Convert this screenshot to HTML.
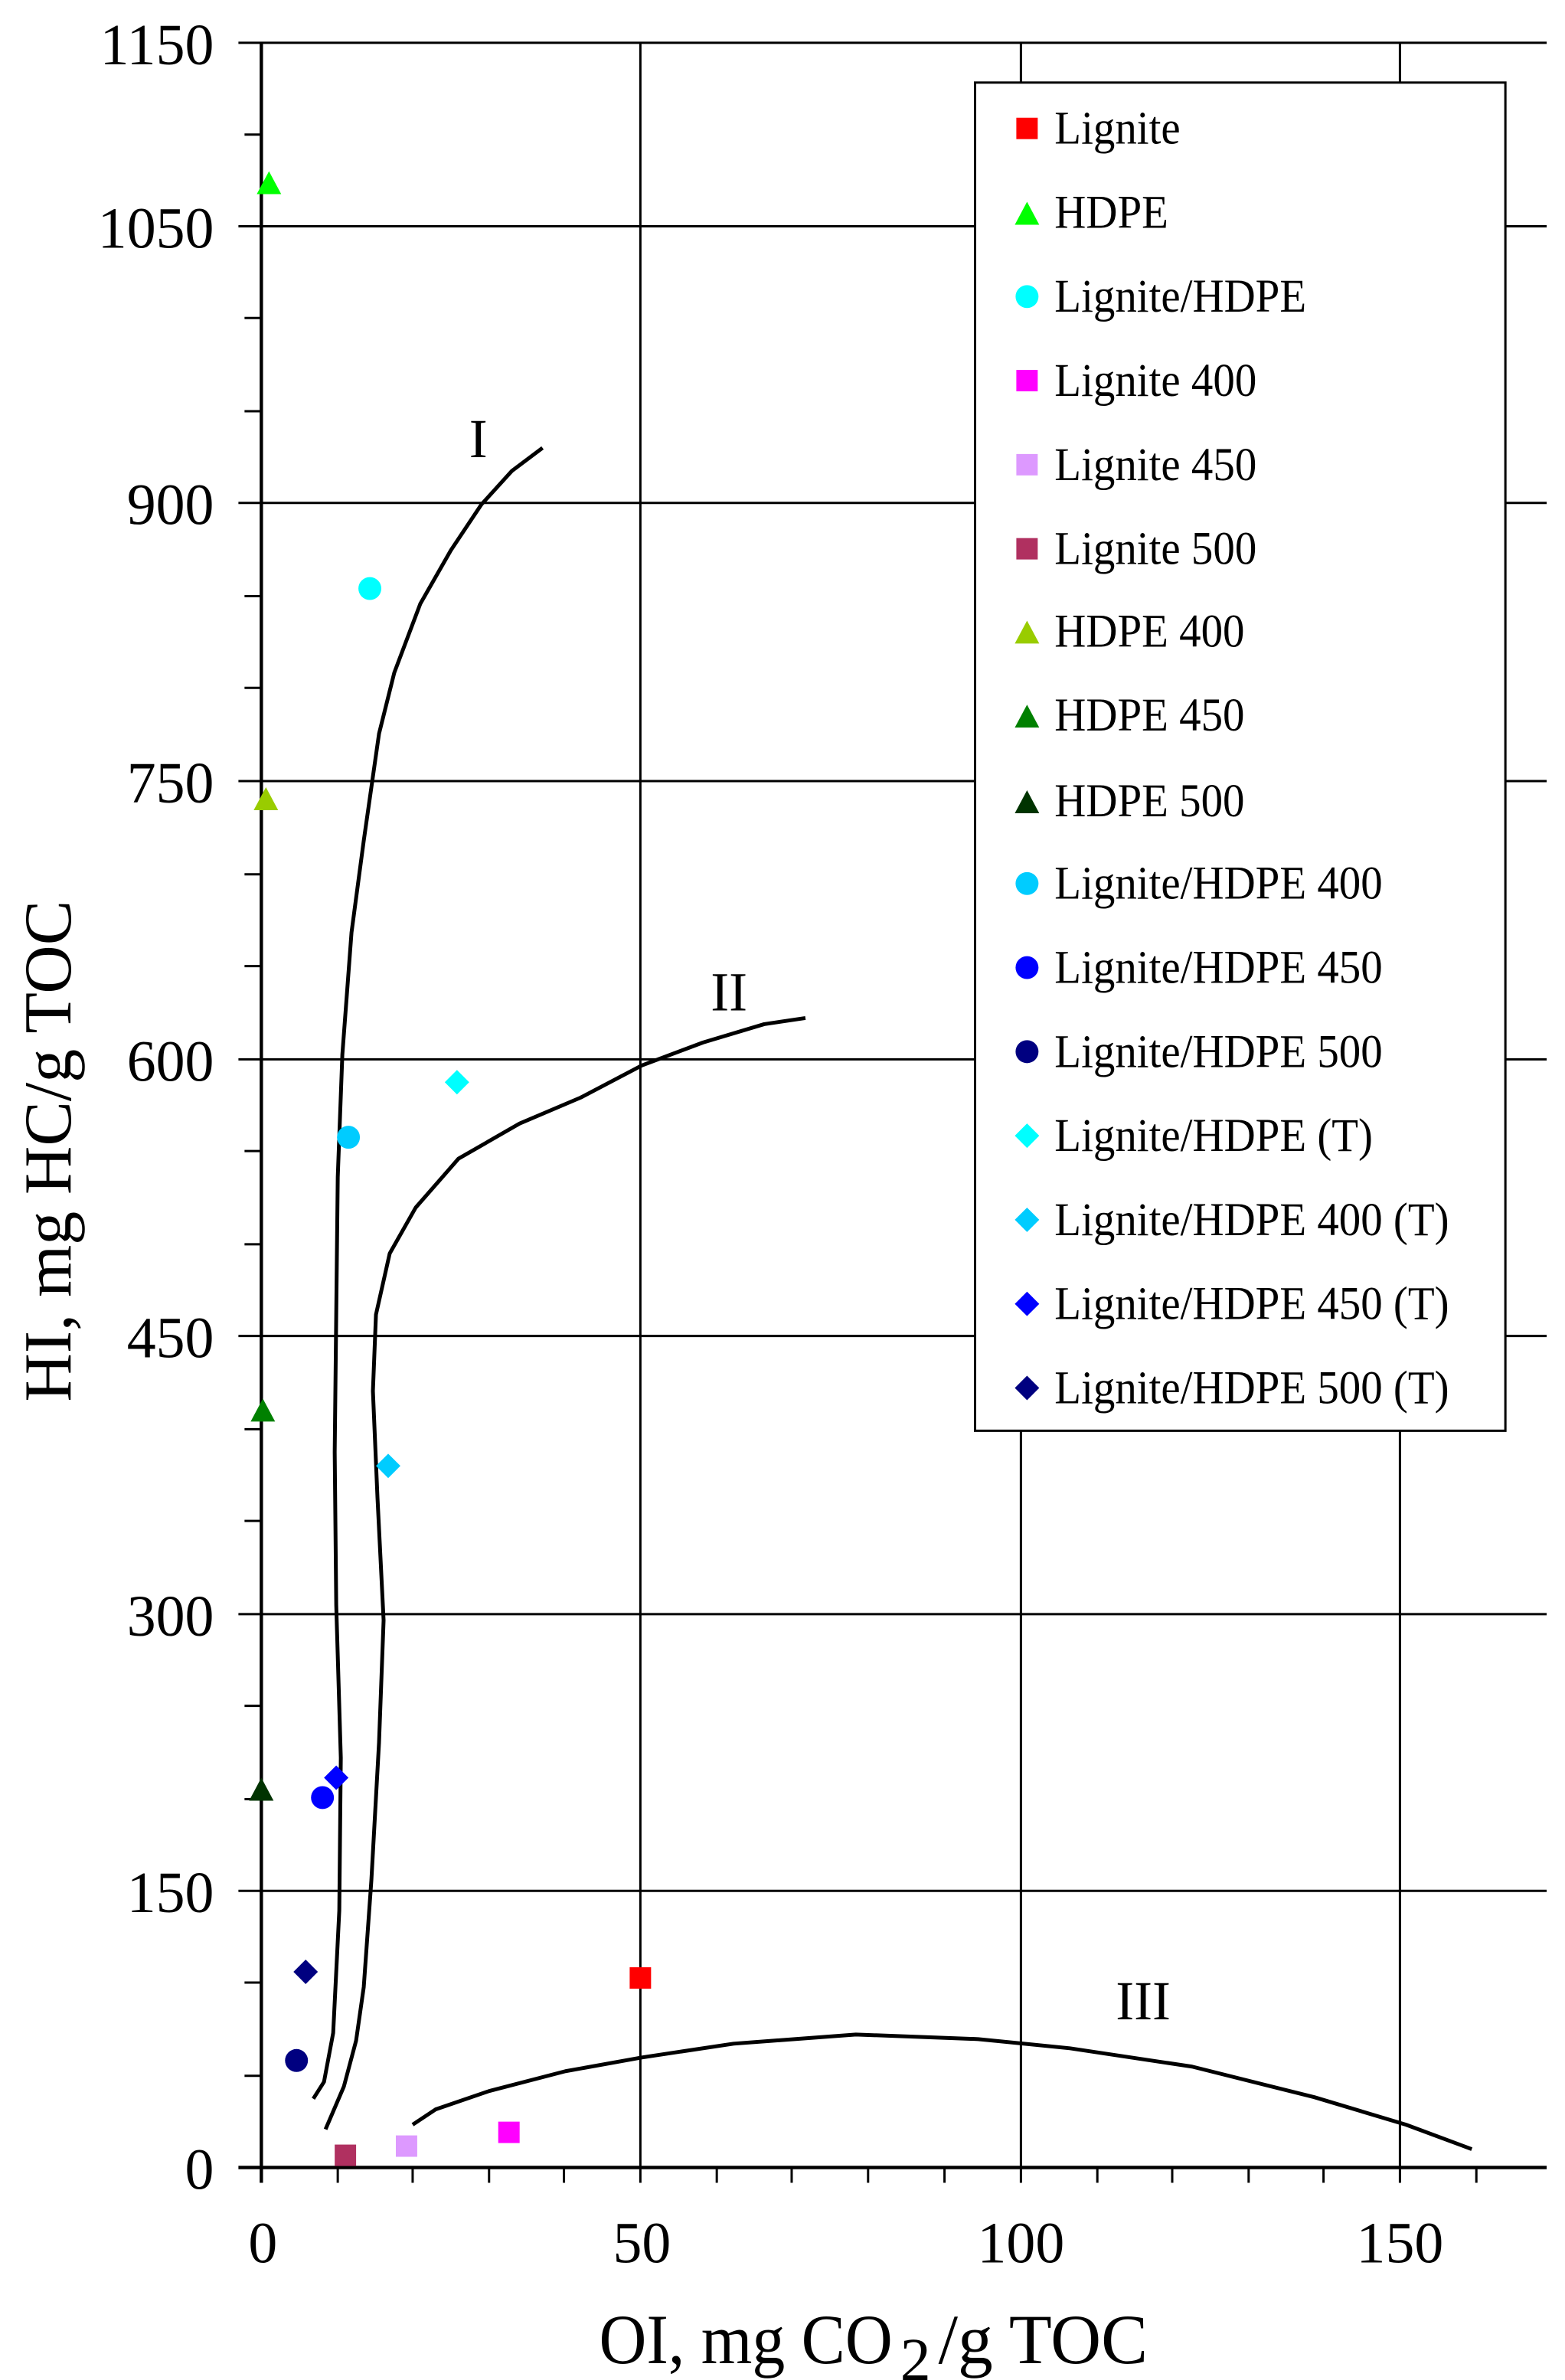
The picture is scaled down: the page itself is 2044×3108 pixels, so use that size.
<!DOCTYPE html>
<html><head><meta charset="utf-8"><style>html,body{margin:0;padding:0;background:#fff}svg{display:block}</style></head>
<body>
<svg xmlns="http://www.w3.org/2000/svg" width="2044" height="3108" viewBox="0 0 1024 1557" font-family="'Liberation Serif', serif">
<rect width="1024" height="1557" fill="#fff"/>
<g stroke="#000" stroke-width="1.5" fill="none">
<line x1="156" y1="28" x2="1012" y2="28"/>
<line x1="156" y1="148" x2="1012" y2="148"/>
<line x1="156" y1="329" x2="1012" y2="329"/>
<line x1="156" y1="511" x2="1012" y2="511"/>
<line x1="156" y1="693" x2="1012" y2="693"/>
<line x1="156" y1="874" x2="1012" y2="874"/>
<line x1="156" y1="1056" x2="1012" y2="1056"/>
<line x1="156" y1="1237" x2="1012" y2="1237"/>
<line x1="419" y1="28" x2="419" y2="1428"/>
<line x1="668" y1="28" x2="668" y2="1428"/>
<line x1="916" y1="28" x2="916" y2="1428"/>
<line x1="160" y1="88" x2="171" y2="88"/>
<line x1="160" y1="208" x2="171" y2="208"/>
<line x1="160" y1="269" x2="171" y2="269"/>
<line x1="160" y1="390" x2="171" y2="390"/>
<line x1="160" y1="450" x2="171" y2="450"/>
<line x1="160" y1="572" x2="171" y2="572"/>
<line x1="160" y1="632" x2="171" y2="632"/>
<line x1="160" y1="753" x2="171" y2="753"/>
<line x1="160" y1="814" x2="171" y2="814"/>
<line x1="160" y1="935" x2="171" y2="935"/>
<line x1="160" y1="995" x2="171" y2="995"/>
<line x1="160" y1="1116" x2="171" y2="1116"/>
<line x1="160" y1="1177" x2="171" y2="1177"/>
<line x1="160" y1="1297" x2="171" y2="1297"/>
<line x1="160" y1="1358" x2="171" y2="1358"/>
</g>
<g stroke="#000" stroke-width="2.2" fill="none">
<line x1="171" y1="28" x2="171" y2="1428"/>
<line x1="156" y1="1418" x2="1012" y2="1418"/>
</g>
<g stroke="#000" stroke-width="1.5">
<line x1="221" y1="1418" x2="221" y2="1428"/><line x1="270" y1="1418" x2="270" y2="1428"/><line x1="320" y1="1418" x2="320" y2="1428"/><line x1="369" y1="1418" x2="369" y2="1428"/>
<line x1="469" y1="1418" x2="469" y2="1428"/><line x1="518" y1="1418" x2="518" y2="1428"/><line x1="568" y1="1418" x2="568" y2="1428"/><line x1="618" y1="1418" x2="618" y2="1428"/>
<line x1="718" y1="1418" x2="718" y2="1428"/><line x1="767" y1="1418" x2="767" y2="1428"/><line x1="817" y1="1418" x2="817" y2="1428"/><line x1="866" y1="1418" x2="866" y2="1428"/>
<line x1="966" y1="1418" x2="966" y2="1428"/>
</g>
<g font-size="38" text-anchor="end" fill="#000">
<text x="140" y="42">1150</text><text x="140" y="162">1050</text><text x="140" y="343">900</text>
<text x="140" y="525">750</text><text x="140" y="707">600</text><text x="140" y="888">450</text>
<text x="140" y="1070">300</text><text x="140" y="1251">150</text><text x="140" y="1432">0</text>
</g>
<g font-size="38" text-anchor="middle" fill="#000">
<text x="172" y="1480">0</text><text x="420" y="1480">50</text><text x="668" y="1480">100</text><text x="916" y="1480">150</text>
</g>
<text transform="translate(46,917) rotate(-90)" font-size="44" textLength="328" lengthAdjust="spacingAndGlyphs">HI, mg HC/g TOC</text>
<text x="392" y="1546" font-size="46" textLength="192" lengthAdjust="spacingAndGlyphs">OI, mg CO</text>
<text x="589" y="1557" font-size="40">2</text>
<text x="614" y="1546" font-size="46" textLength="137" lengthAdjust="spacingAndGlyphs">/g TOC</text>
<g stroke="#000" stroke-width="2.5" fill="none" stroke-linejoin="round">
<path d="M205,1373 L212,1362 L218,1330 L222,1250 L223,1150 L220,1050 L219,950 L220,860 L221,770 L224,690 L230,610 L238,550 L248,480 L258,440 L275,395 L295,360 L315,330 L335,308 L355,293"/>
<path d="M213,1393 L225,1365 L233,1335 L238,1300 L243,1230 L248,1140 L251,1060 L247,980 L244,910 L246,860 L255,820 L272,790 L300,758 L340,735 L380,718 L420,697 L460,682 L500,670 L527,666"/>
<path d="M270,1390 L285,1380 L320,1368 L370,1355 L420,1346 L480,1337 L560,1331 L640,1334 L700,1340 L780,1352 L860,1372 L920,1390 L963,1406"/>
</g>
<g font-size="36" fill="#000" text-anchor="middle">
<text x="313" y="299">I</text><text x="477" y="661">II</text><text x="748" y="1321">III</text>
</g>
<rect x="412" y="1287" width="14" height="14" fill="#ff0000"/>
<polygon points="176,112 184,127 168,127" fill="#00ff00"/>
<circle cx="242" cy="385" r="7.5" fill="#00ffff"/>
<rect x="326" y="1388" width="14" height="14" fill="#ff00ff"/>
<rect x="259" y="1397" width="14" height="14" fill="#dd99ff"/>
<rect x="219" y="1403" width="14" height="14" fill="#b03060"/>
<polygon points="174,515 182,530 166,530" fill="#99cc00"/>
<polygon points="172,915 180,930 164,930" fill="#008000"/>
<polygon points="171,1163 179,1178 163,1178" fill="#003300"/>
<circle cx="228" cy="744" r="7.5" fill="#00ccff"/>
<circle cx="211" cy="1176" r="7.5" fill="#0000ff"/>
<circle cx="194" cy="1348" r="7.5" fill="#000080"/>
<polygon points="299,700 307,708 299,716 291,708" fill="#00ffff"/>
<polygon points="254,951 262,959 254,967 246,959" fill="#00ccff"/>
<polygon points="220,1155 228,1163 220,1171 212,1163" fill="#0000ff"/>
<polygon points="200,1282 208,1290 200,1298 192,1290" fill="#000080"/>
<rect x="638" y="54" width="347" height="882" fill="#fff" stroke="#000" stroke-width="1.5"/>
<rect x="665" y="77" width="14" height="14" fill="#ff0000"/>
<polygon points="672,132 680,147 664,147" fill="#00ff00"/>
<circle cx="672" cy="194" r="7.5" fill="#00ffff"/>
<rect x="665" y="242" width="14" height="14" fill="#ff00ff"/>
<rect x="665" y="297" width="14" height="14" fill="#dd99ff"/>
<rect x="665" y="352" width="14" height="14" fill="#b03060"/>
<polygon points="672,406 680,421 664,421" fill="#99cc00"/>
<polygon points="672,461 680,476 664,476" fill="#008000"/>
<polygon points="672,517 680,532 664,532" fill="#003300"/>
<circle cx="672" cy="578" r="7.5" fill="#00ccff"/>
<circle cx="672" cy="633" r="7.5" fill="#0000ff"/>
<circle cx="672" cy="688" r="7.5" fill="#000080"/>
<polygon points="672,735 680,743 672,751 664,743" fill="#00ffff"/>
<polygon points="672,790 680,798 672,806 664,798" fill="#00ccff"/>
<polygon points="672,845 680,853 672,861 664,853" fill="#0000ff"/>
<polygon points="672,900 680,908 672,916 664,908" fill="#000080"/>
<g font-size="31" fill="#000" transform="translate(690,0) scale(0.92,1)">
<text x="0" y="94">Lignite</text>
<text x="0" y="149">HDPE</text>
<text x="0" y="204">Lignite/HDPE</text>
<text x="0" y="259">Lignite 400</text>
<text x="0" y="314">Lignite 450</text>
<text x="0" y="369">Lignite 500</text>
<text x="0" y="423">HDPE 400</text>
<text x="0" y="478">HDPE 450</text>
<text x="0" y="534">HDPE 500</text>
<text x="0" y="588">Lignite/HDPE 400</text>
<text x="0" y="643">Lignite/HDPE 450</text>
<text x="0" y="698">Lignite/HDPE 500</text>
<text x="0" y="753">Lignite/HDPE (T)</text>
<text x="0" y="808">Lignite/HDPE 400 (T)</text>
<text x="0" y="863">Lignite/HDPE 450 (T)</text>
<text x="0" y="918">Lignite/HDPE 500 (T)</text>
</g>
</svg>
</body></html>
